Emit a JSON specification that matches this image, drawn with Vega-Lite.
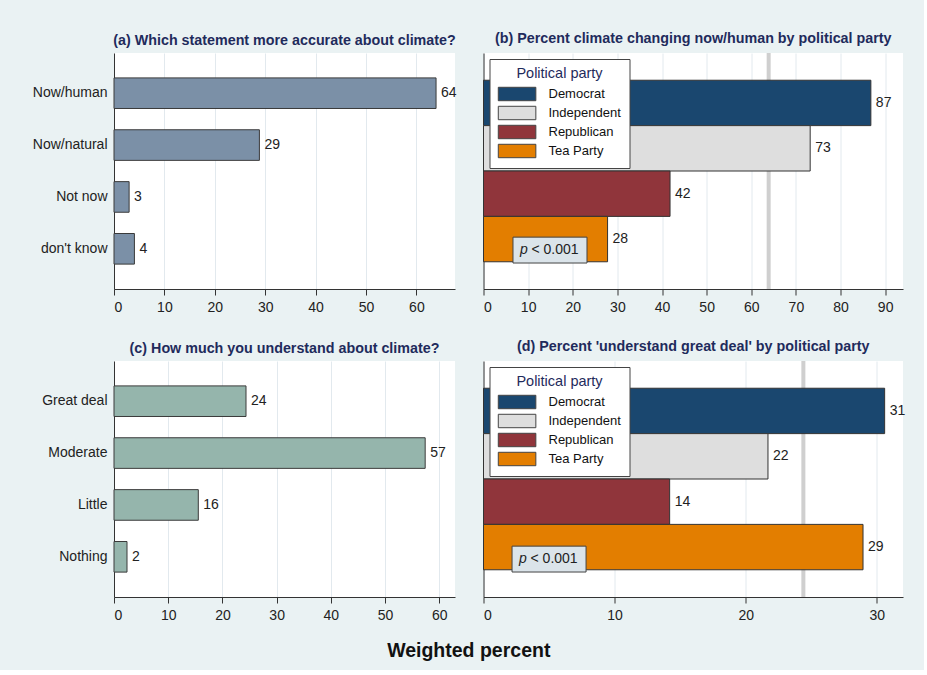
{
  "$schema": "https://vega.github.io/schema/vega-lite/v6.json",
  "background": "#eaf2f3",
  "padding": {"left": 32, "top": 31, "right": 18, "bottom": 10},
  "config": {
    "font": "Liberation Sans",
    "view": {"fill": "white", "stroke": null},
    "axis": {
      "domainColor": "#333333",
      "tickColor": "#333333",
      "tickSize": 6,
      "labelColor": "#222222",
      "labelFontSize": 14,
      "labelFont": "Liberation Sans",
      "gridColor": "#e2e9ee",
      "gridWidth": 1,
      "labelPadding": 5,
      "titleFontSize": 14
    },
    "title": {"fontSize": 14.3, "fontWeight": "bold", "color": "#1f2b5c", "offset": 5, "anchor": "middle", "frame": "group", "font": "Liberation Sans"},
    "legend": {"titleFont": "Liberation Sans", "labelFont": "Liberation Sans"}
  },
  "title": {"text": "Weighted percent", "orient": "bottom", "fontSize": 19.5, "fontWeight": "bold", "color": "#111111", "anchor": "middle", "frame": "bounds", "offset": 19.5},
  "columns": 2,
  "bounds": "flush",
  "spacing": {"row": 72, "column": 28.5},
  "resolve": {"scale": {"x": "independent", "y": "independent", "fill": "independent"}, "legend": {"fill": "independent"}},
  "concat": [
    {
      "width": 341,
      "height": 236,
      "title": {"text": "(a) Which statement more accurate about climate?"},
      "data": {"values": [
        {"response": "Now/human", "pct": 63.9},
        {"response": "Now/natural", "pct": 28.85},
        {"response": "Not now", "pct": 3.0},
        {"response": "don't know", "pct": 4.05}
      ]},
      "encoding": {
        "y": {"field": "response", "type": "nominal", "sort": null,
              "scale": {"paddingInner": 0.41, "paddingOuter": 0.48},
              "axis": {"title": null, "ticks": false, "labelPadding": 7, "grid": false}},
        "x": {"field": "pct", "type": "quantitative",
              "scale": {"domain": [0, 67.66], "nice": false},
              "axis": {"title": null, "values": [0, 10, 20, 30, 40, 50, 60], "grid": true}}
      },
      "layer": [
        {"mark": {"type": "bar", "fill": "#7b90a7", "stroke": "#3a3a3a", "strokeWidth": 1}},
        {"mark": {"type": "text", "align": "left", "baseline": "middle", "dx": 5, "fontSize": 14, "fill": "#222222"},
         "encoding": {"text": {"field": "pct", "type": "quantitative", "format": ".0f"}}}
      ]
    },
    {
      "width": 419.5,
      "height": 236,
      "title": {"text": "(b) Percent climate changing now/human by political party"},
      "data": {"values": [
        {"party": "Democrat", "pct": 86.8},
        {"party": "Independent", "pct": 73.2},
        {"party": "Republican", "pct": 41.8},
        {"party": "Tea Party", "pct": 27.8}
      ]},
      "encoding": {
        "x": {"field": "pct", "type": "quantitative",
              "scale": {"domain": [0, 94], "nice": false},
              "axis": {"title": null, "values": [0, 10, 20, 30, 40, 50, 60, 70, 80, 90], "grid": true}}
      },
      "layer": [
        {"data": {"values": [{"pct": 63.9}]},
         "mark": {"type": "rule", "color": "#cfcfcf", "strokeWidth": 4}},
        {"mark": {"type": "bar", "stroke": "#333333", "strokeWidth": 1, "opacity": 1},
         "encoding": {
           "y": {"field": "party", "type": "nominal", "sort": null,
                 "scale": {"paddingInner": 0, "paddingOuter": 0.6},
                 "axis": {"title": null, "labels": false, "ticks": false, "grid": false}},
           "fill": {"field": "party", "type": "nominal", "sort": null,
                    "scale": {"domain": ["Democrat", "Independent", "Republican", "Tea Party"],
                              "range": ["#1a476f", "#dedede", "#90353b", "#e37e00"]},
                    "legend": {"title": "Political party", "orient": "top-left", "offset": 6, "padding": 8,
                               "fillColor": "white", "strokeColor": "#444444", "cornerRadius": 0,
                               "titleColor": "#1f2b5c", "titleFontSize": 14.5, "titleFontWeight": "normal",
                               "titleAnchor": "middle", "titlePadding": 5,
                               "labelFontSize": 13, "labelColor": "#111111", "labelOffset": 36,
                               "symbolType": "M-1,-1L4.6,-1L4.6,1L-1,1Z", "symbolSize": 180,
                               "symbolStrokeColor": "#444444", "symbolStrokeWidth": 1, "symbolOpacity": 1,
                               "rowPadding": 0}}
         }},
        {"mark": {"type": "text", "align": "left", "baseline": "middle", "dx": 5, "fontSize": 14, "fill": "#222222"},
         "encoding": {
           "y": {"field": "party", "type": "nominal", "sort": null},
           "text": {"field": "pct", "type": "quantitative", "format": ".0f"}
         }},
        {"data": {"values": [{"party": "Tea Party", "pct": 14.9, "p": "< 0.001"}]},
         "mark": {"type": "point", "shape": "M-1,-0.35L1,-0.35L1,0.35L-1,0.35Z", "size": 5476, "filled": true,
                  "fill": "#dbe4ea", "stroke": "#444444", "strokeWidth": 1, "opacity": 1, "yOffset": 11},
         "encoding": {"y": {"field": "party", "type": "nominal"}}},
        {"data": {"values": [{"party": "Tea Party", "pct": 14.9, "p": "< 0.001"}]},
         "mark": {"type": "text", "fontStyle": "italic", "align": "left", "baseline": "middle", "dx": -30, "yOffset": 11, "fontSize": 14, "fill": "#222222", "text": "p"},
         "encoding": {"y": {"field": "party", "type": "nominal"}}},
        {"data": {"values": [{"party": "Tea Party", "pct": 14.9, "p": "< 0.001"}]},
         "mark": {"type": "text", "align": "left", "baseline": "middle", "dx": -18.5, "yOffset": 11, "fontSize": 14, "fill": "#222222"},
         "encoding": {"y": {"field": "party", "type": "nominal"}, "text": {"field": "p", "type": "nominal"}}}
      ]
    },
    {
      "width": 341,
      "height": 236,
      "title": {"text": "(c) How much you understand about climate?"},
      "data": {"values": [
        {"response": "Great deal", "pct": 24.35},
        {"response": "Moderate", "pct": 57.4},
        {"response": "Little", "pct": 15.55},
        {"response": "Nothing", "pct": 2.4}
      ]},
      "encoding": {
        "y": {"field": "response", "type": "nominal", "sort": null,
              "scale": {"paddingInner": 0.41, "paddingOuter": 0.48},
              "axis": {"title": null, "ticks": false, "labelPadding": 7, "grid": false}},
        "x": {"field": "pct", "type": "quantitative",
              "scale": {"domain": [0, 62.9], "nice": false},
              "axis": {"title": null, "values": [0, 10, 20, 30, 40, 50, 60], "grid": true}}
      },
      "layer": [
        {"mark": {"type": "bar", "fill": "#95b5ac", "stroke": "#3a3a3a", "strokeWidth": 1}},
        {"mark": {"type": "text", "align": "left", "baseline": "middle", "dx": 5, "fontSize": 14, "fill": "#222222"},
         "encoding": {"text": {"field": "pct", "type": "quantitative", "format": ".0f"}}}
      ]
    },
    {
      "width": 419.5,
      "height": 236,
      "title": {"text": "(d) Percent 'understand great deal' by political party"},
      "data": {"values": [
        {"party": "Democrat", "pct": 30.6},
        {"party": "Independent", "pct": 21.7},
        {"party": "Republican", "pct": 14.2},
        {"party": "Tea Party", "pct": 28.95}
      ]},
      "encoding": {
        "x": {"field": "pct", "type": "quantitative",
              "scale": {"domain": [0, 32], "nice": false},
              "axis": {"title": null, "values": [0, 10, 20, 30], "grid": true}}
      },
      "layer": [
        {"data": {"values": [{"pct": 24.4}]},
         "mark": {"type": "rule", "color": "#cfcfcf", "strokeWidth": 4}},
        {"mark": {"type": "bar", "stroke": "#333333", "strokeWidth": 1, "opacity": 1},
         "encoding": {
           "y": {"field": "party", "type": "nominal", "sort": null,
                 "scale": {"paddingInner": 0, "paddingOuter": 0.6},
                 "axis": {"title": null, "labels": false, "ticks": false, "grid": false}},
           "fill": {"field": "party", "type": "nominal", "sort": null,
                    "scale": {"domain": ["Democrat", "Independent", "Republican", "Tea Party"],
                              "range": ["#1a476f", "#dedede", "#90353b", "#e37e00"]},
                    "legend": {"title": "Political party", "orient": "top-left", "offset": 6, "padding": 8,
                               "fillColor": "white", "strokeColor": "#444444", "cornerRadius": 0,
                               "titleColor": "#1f2b5c", "titleFontSize": 14.5, "titleFontWeight": "normal",
                               "titleAnchor": "middle", "titlePadding": 5,
                               "labelFontSize": 13, "labelColor": "#111111", "labelOffset": 36,
                               "symbolType": "M-1,-1L4.6,-1L4.6,1L-1,1Z", "symbolSize": 180,
                               "symbolStrokeColor": "#444444", "symbolStrokeWidth": 1, "symbolOpacity": 1,
                               "rowPadding": 0}}
         }},
        {"mark": {"type": "text", "align": "left", "baseline": "middle", "dx": 5, "fontSize": 14, "fill": "#222222"},
         "encoding": {
           "y": {"field": "party", "type": "nominal", "sort": null},
           "text": {"field": "pct", "type": "quantitative", "format": ".0f"}
         }},
        {"data": {"values": [{"party": "Tea Party", "pct": 5.0, "p": "< 0.001"}]},
         "mark": {"type": "point", "shape": "M-1,-0.35L1,-0.35L1,0.35L-1,0.35Z", "size": 5476, "filled": true,
                  "fill": "#dbe4ea", "stroke": "#444444", "strokeWidth": 1, "opacity": 1, "yOffset": 12},
         "encoding": {"y": {"field": "party", "type": "nominal"}}},
        {"data": {"values": [{"party": "Tea Party", "pct": 5.0, "p": "< 0.001"}]},
         "mark": {"type": "text", "fontStyle": "italic", "align": "left", "baseline": "middle", "dx": -30, "yOffset": 12, "fontSize": 14, "fill": "#222222", "text": "p"},
         "encoding": {"y": {"field": "party", "type": "nominal"}}},
        {"data": {"values": [{"party": "Tea Party", "pct": 5.0, "p": "< 0.001"}]},
         "mark": {"type": "text", "align": "left", "baseline": "middle", "dx": -18.5, "yOffset": 12, "fontSize": 14, "fill": "#222222"},
         "encoding": {"y": {"field": "party", "type": "nominal"}, "text": {"field": "p", "type": "nominal"}}}
      ]
    }
  ]
}
